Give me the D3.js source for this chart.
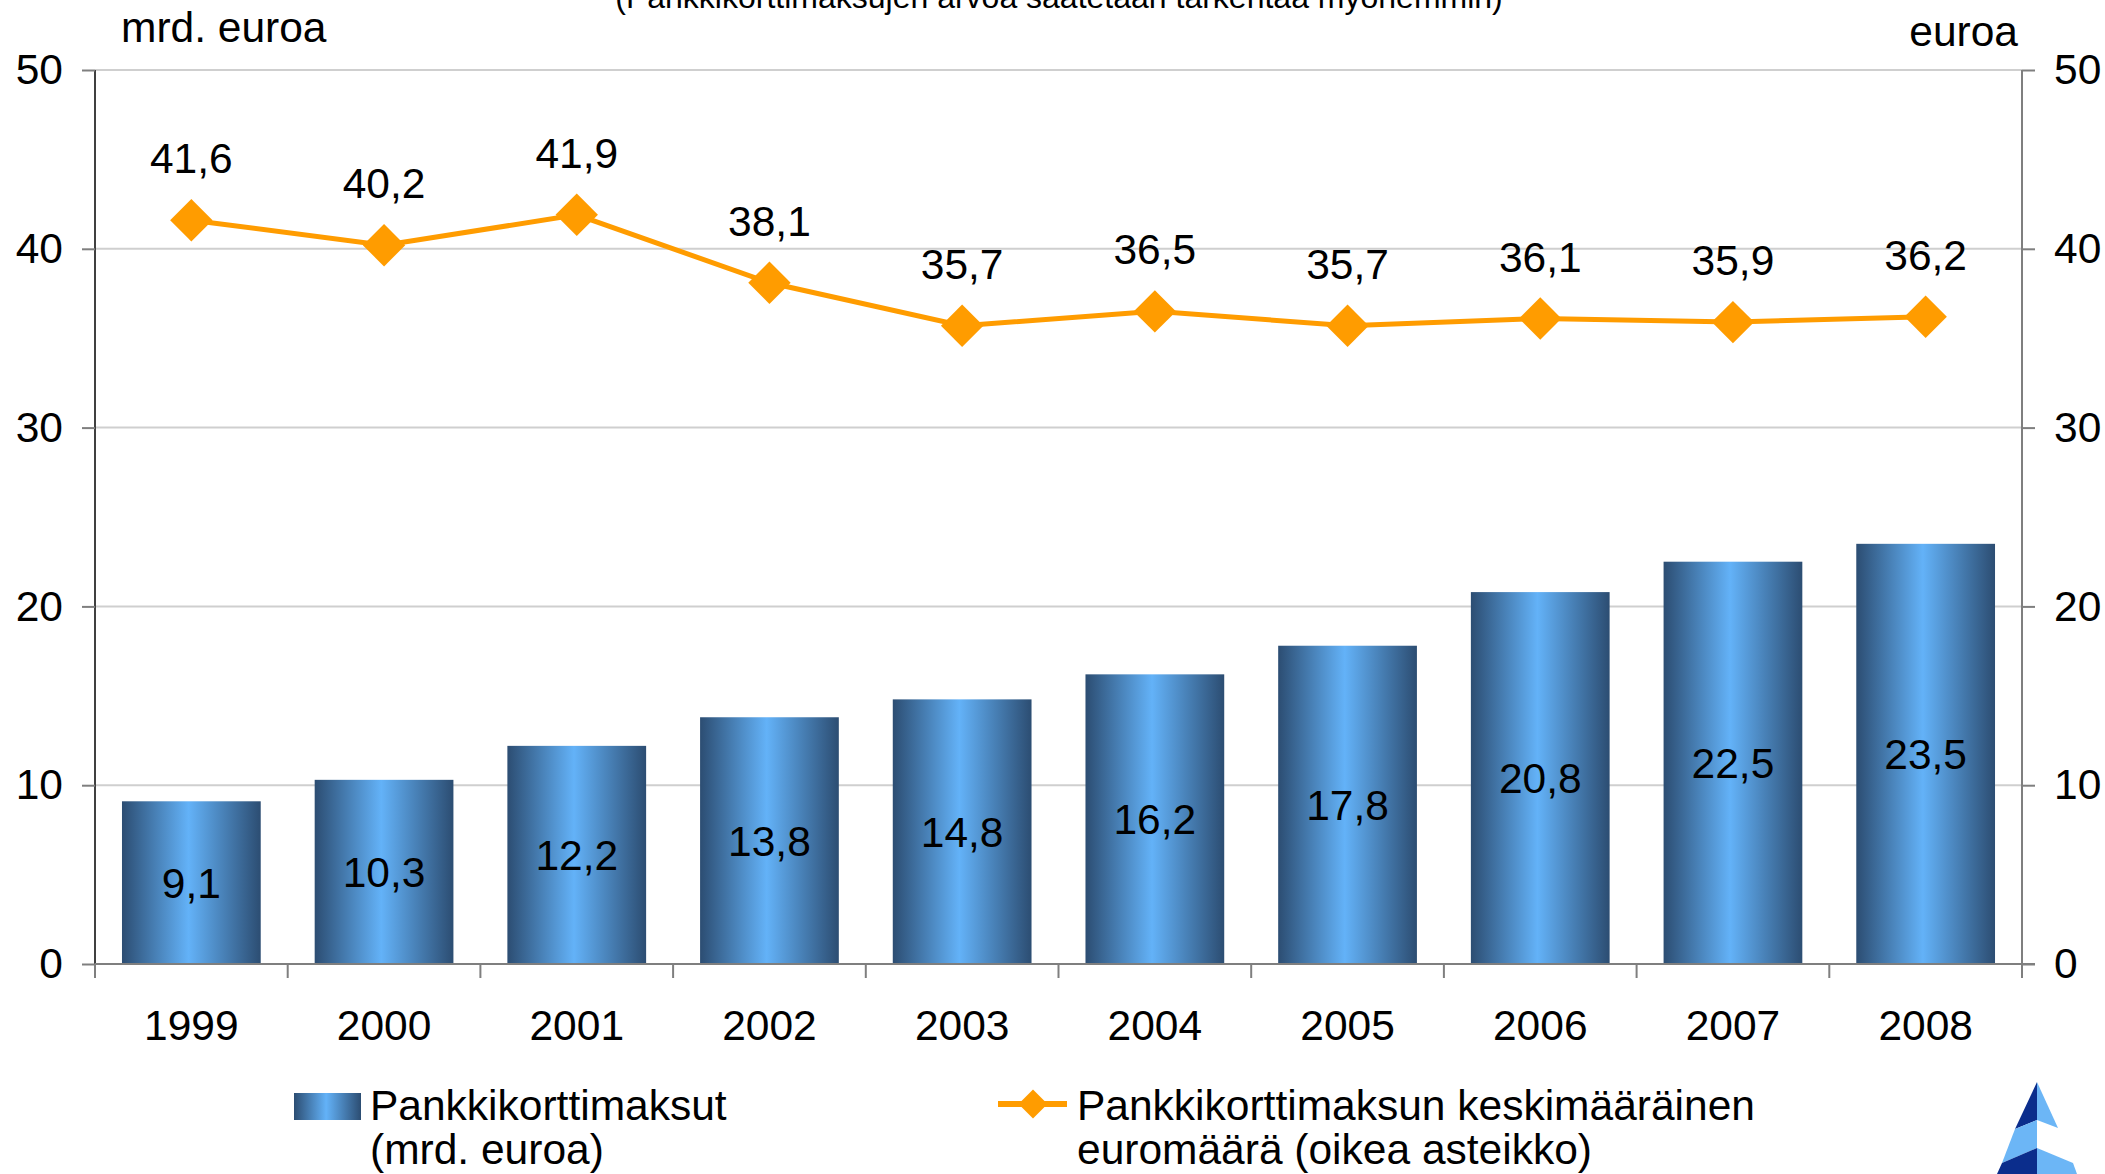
<!DOCTYPE html>
<html>
<head>
<meta charset="utf-8">
<script src="https://cdn.jsdelivr.net/npm/d3@7"></script>
<style>
    body { margin: 0; background: #fff; }
    svg text { font-family: "Liberation Sans", Arial, sans-serif; fill: #000; }
</style>
</head>
<body>
<svg id="chart" width="2105" height="1174"></svg>
<script>
// data
const years = ["1999", "2000", "2001", "2002", "2003", "2004", "2005", "2006", "2007", "2008"];
const payments = [9.1, 10.3, 12.2, 13.8, 14.8, 16.2, 17.8, 20.8, 22.5, 23.5];   // mrd. euroa (left)
const avgPayment = [41.6, 40.2, 41.9, 38.1, 35.7, 36.5, 35.7, 36.1, 35.9, 36.2]; // euroa (right)
const yTicks = [0, 10, 20, 30, 40, 50];

const titleText = "(Pankkikorttimaksujen arvoa saatetaan tarkentaa myöhemmin)";
const leftUnit = "mrd. euroa";
const rightUnit = "euroa";
const barLegend = ["Pankkikorttimaksut", "(mrd. euroa)"];
const lineLegend = ["Pankkikorttimaksun keskimääräinen", "euromäärä (oikea asteikko)"];

const fi = d3.formatLocale({decimal: ",", thousands: " ", grouping: [3], currency: ["", " €"]});
const fmt = fi.format(".1f");

const svg = d3.select("#chart");
const plotLeft = 95, plotRight = 2022, plotTop = 70, plotBottom = 964;
const fs = 42.5;

/** scales */
const x = d3.scaleBand()
    .domain(years)
    .range([plotLeft, plotRight])
    .paddingInner(0.28)
    .paddingOuter(0.14);
const yL = d3.scaleLinear().domain([0, 50]).range([plotBottom, plotTop]);
const yR = d3.scaleLinear().domain([0, 50]).range([plotBottom, plotTop]);

// bar gradient
const defs = svg.append("defs");
const grad = defs.append("linearGradient").attr("id", "barGrad")
    .attr("x1", "0%").attr("x2", "100%").attr("y1", "0%").attr("y2", "0%");
grad.append("stop").attr("offset", "0%").attr("stop-color", "#2c4d72");
grad.append("stop").attr("offset", "48%").attr("stop-color", "#63b2f8");
grad.append("stop").attr("offset", "100%").attr("stop-color", "#2c4d72");

// gridlines
svg.append("g")
    .selectAll("line")
    .data(yTicks.filter(d => d > 0))
    .join("line")
    .attr("x1", plotLeft).attr("x2", plotRight)
    .attr("y1", d => yL(d)).attr("y2", d => yL(d))
    .attr("stroke", "#cfcfcf")
    .attr("stroke-width", 2);

// bars
svg.append("g")
    .selectAll("rect")
    .data(payments)
    .join("rect")
    .attr("x", (d, i) => x(years[i]))
    .attr("y", d => yL(d))
    .attr("width", x.bandwidth())
    .attr("height", d => yL(0) - yL(d))
    .attr("fill", "url(#barGrad)");

svg.append("g")
    .selectAll("text")
    .data(payments)
    .join("text")
    .attr("x", (d, i) => x(years[i]) + x.bandwidth() / 2)
    .attr("y", d => (yL(d) + yL(0)) / 2)
    .attr("dy", "0.36em")
    .attr("text-anchor", "middle")
    .style("font-size", fs + "px")
    .text(d => fmt(d));

// axes
const axL = svg.append("g")
    .attr("transform", `translate(${plotLeft},0)`)
    .call(d3.axisLeft(yL).tickValues(yTicks).tickSize(13).tickPadding(19).tickFormat(d3.format("d")));
const axR = svg.append("g")
    .attr("transform", `translate(${plotRight},0)`)
    .call(d3.axisRight(yR).tickValues(yTicks).tickSize(13).tickPadding(19).tickFormat(d3.format("d")));
[axL, axR].forEach(ax => {
    ax.select(".domain").attr("stroke", "#7f7f7f").attr("stroke-width", 2).attr("d", `M0,${plotTop}V${plotBottom}`);
    ax.selectAll(".tick line").attr("stroke", "#7f7f7f").attr("stroke-width", 2);
    ax.selectAll(".tick text")
        .style("font-size", fs + "px")
        .attr("fill", "#000")
        .attr("font-family", "Liberation Sans, Arial, sans-serif");
});
axL.select(".domain").attr("stroke", "#404040");

// x axis: baseline and ticks at band boundaries
const xg = svg.append("g");
xg.append("line")
    .attr("x1", plotLeft).attr("x2", plotRight + 13)
    .attr("y1", plotBottom).attr("y2", plotBottom)
    .attr("stroke", "#7f7f7f").attr("stroke-width", 2);
xg.selectAll("line.tk")
    .data(d3.range(years.length + 1))
    .join("line")
    .attr("class", "tk")
    .attr("x1", i => plotLeft + i * x.step()).attr("x2", i => plotLeft + i * x.step())
    .attr("y1", plotBottom).attr("y2", plotBottom + 14)
    .attr("stroke", "#7f7f7f").attr("stroke-width", 2);
xg.selectAll("text")
    .data(years)
    .join("text")
    .attr("x", d => x(d) + x.bandwidth() / 2)
    .attr("y", 1040)
    .attr("text-anchor", "middle")
    .style("font-size", fs + "px")
    .text(d => d);

// line series on the right scale
const cx = (d, i) => x(years[i]) + x.bandwidth() / 2;
const line = d3.line()
    .x((d, i) => cx(d, i))
    .y(d => yR(d));
svg.append("path")
    .datum(avgPayment)
    .attr("d", line)
    .attr("fill", "none")
    .attr("stroke", "#ff9c00")
    .attr("stroke-width", 5);

svg.append("g")
    .selectAll("path")
    .data(avgPayment)
    .join("path")
    .attr("transform", (d, i) => `translate(${cx(d, i)},${yR(d)}) rotate(45)`)
    .attr("d", d3.symbol().type(d3.symbolSquare).size(900))
    .attr("fill", "#ff9c00");

svg.append("g")
    .selectAll("text")
    .data(avgPayment)
    .join("text")
    .attr("x", (d, i) => cx(d, i))
    .attr("y", d => yR(d) - 47)
    .attr("text-anchor", "middle")
    .style("font-size", fs + "px")
    .text(d => fmt(d));

// titles
svg.append("text")
    .attr("x", 1059).attr("y", 8)
    .attr("text-anchor", "middle")
    .style("font-size", "32px")
    .text(titleText);
svg.append("text")
    .attr("x", 121).attr("y", 42)
    .style("font-size", fs + "px")
    .text(leftUnit);
svg.append("text")
    .attr("x", 2018).attr("y", 46)
    .attr("text-anchor", "end")
    .style("font-size", fs + "px")
    .text(rightUnit);

// legend
const lg = svg.append("g");
lg.append("rect")
    .attr("x", 294).attr("y", 1093).attr("width", 67).attr("height", 27)
    .attr("fill", "url(#barGrad)");
lg.append("text")
    .attr("x", 370).attr("y", 1120)
    .style("font-size", fs + "px")
    .selectAll("tspan")
    .data(barLegend)
    .join("tspan")
    .attr("x", 370)
    .attr("dy", (d, i) => i === 0 ? 0 : 44)
    .text(d => d);

lg.append("line")
    .attr("x1", 998).attr("x2", 1067).attr("y1", 1104).attr("y2", 1104)
    .attr("stroke", "#ff9c00").attr("stroke-width", 6);
lg.append("path")
    .attr("transform", "translate(1033,1104) rotate(45)")
    .attr("d", d3.symbol().type(d3.symbolSquare).size(420))
    .attr("fill", "#ff9c00");
lg.append("text")
    .attr("x", 1077).attr("y", 1120)
    .style("font-size", fs + "px")
    .selectAll("tspan")
    .data(lineLegend)
    .join("tspan")
    .attr("x", 1077)
    .attr("dy", (d, i) => i === 0 ? 0 : 44)
    .text(d => d);

// logo fragment in the corner
const logo = svg.append("g");
const logoParts = [
    {c: "#0b2d8c", p: [[2037, 1082], [2037, 1120], [2015, 1129]]},
    {c: "#6cb6f6", p: [[2037, 1082], [2058, 1128], [2037, 1120]]},
    {c: "#6cb6f6", p: [[2015, 1129], [2037, 1120], [2037, 1148], [2002, 1163]]},
    {c: "#0b2d8c", p: [[2002, 1163], [2037, 1148], [2037, 1174], [1997, 1174]]},
    {c: "#6cb6f6", p: [[2037, 1148], [2073, 1163], [2077, 1174], [2037, 1174]]}
];
logo.selectAll("polygon")
    .data(logoParts)
    .join("polygon")
    .attr("points", d => d.p.map(q => q.join(",")).join(" "))
    .attr("fill", d => d.c);
</script>
</body>
</html>
